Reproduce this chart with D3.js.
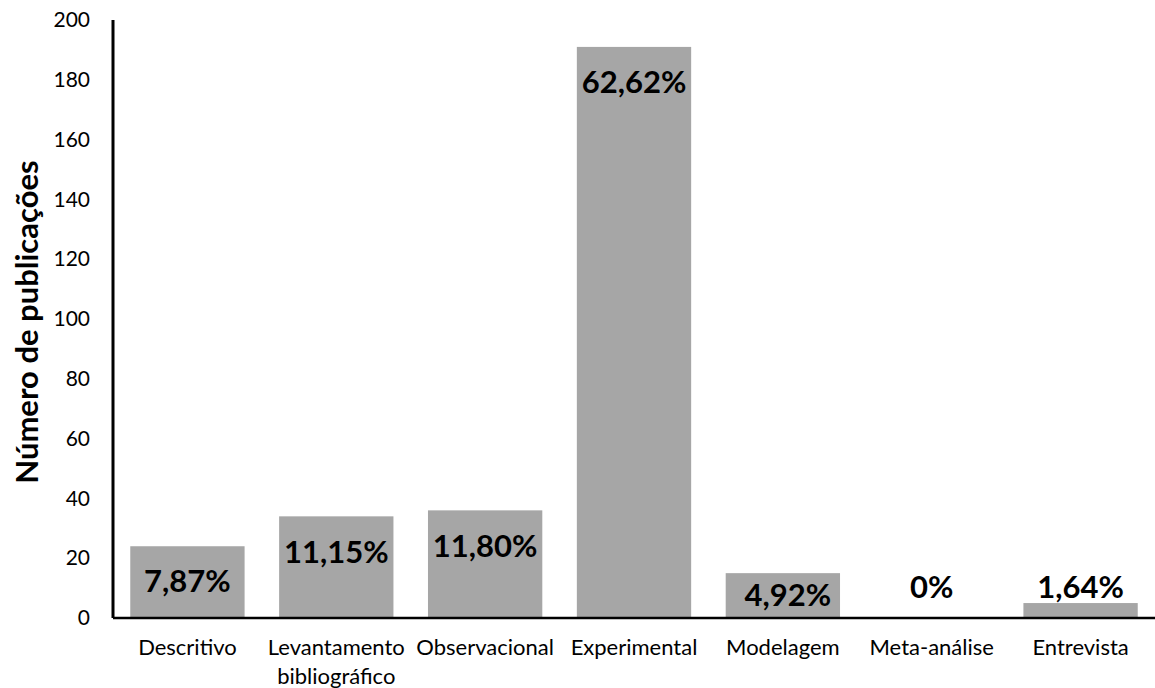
<!DOCTYPE html>
<html>
<head>
<meta charset="utf-8">
<script src="https://cdn.jsdelivr.net/npm/d3@7"></script>
<style>
  html, body { margin: 0; padding: 0; background: #fff; }
  svg { display: block; font-family: Lato, "Open Sans", sans-serif; }
</style>
</head>
<body>
<svg id="chart" width="1155" height="688"></svg>
<script>
// Publication counts by study type
const categories = ["Descritivo", "Levantamento bibliográfico", "Observacional", "Experimental", "Modelagem", "Meta-análise", "Entrevista"];
const counts = [24, 34, 36, 191, 15, 0, 5];
const percentLabels = ["7,87%", "11,15%", "11,80%", "62,62%", "4,92%", "0%", "1,64%"];
const yTicks = [0, 20, 40, 60, 80, 100, 120, 140, 160, 180, 200];

const svg = d3.select("#chart");

const x = d3.scaleBand()
  .domain(categories)
  .range([113, 1155])
  .paddingInner(0.232)
  .paddingOuter(0.116);

const y = d3.scaleLinear().domain([0, 200]).range([618, 20]);

// Bars
svg.append("g").selectAll("rect")
  .data(categories)
  .join("rect")
  .attr("x", d => x(d))
  .attr("width", x.bandwidth())
  .attr("y", (d, i) => y(counts[i]))
  .attr("height", (d, i) => y(0) - y(counts[i]))
  .attr("fill", "#a6a6a6");

// Percentage labels: inside the bar near its top, or above the baseline for short bars
svg.append("g").selectAll("text")
  .data(categories)
  .join("text")
  .attr("x", (d, i) => x(d) + x.bandwidth() / 2 + (counts[i] >= 10 && counts[i] < 20 ? 5 : 0))
  .attr("y", (d, i) => counts[i] >= 10 ? Math.min(y(counts[i]) + 35, 595) : 587)
  .attr("dy", "0.36em")
  .attr("text-anchor", "middle")
  .attr("font-size", 31)
  .attr("font-weight", "bold")
  .attr("fill", "#000")
  .text((d, i) => percentLabels[i]);

// Y axis
const yAxis = svg.append("g")
  .attr("transform", "translate(113,0)")
  .call(d3.axisLeft(y).tickValues(yTicks).tickSize(0).tickPadding(23));
yAxis.select(".domain").attr("stroke", "#000").attr("stroke-width", 3).attr("d", `M0,${y(200)}V${y(0)}`);
yAxis.selectAll("text").attr("font-size", 21).attr("fill", "#000").attr("font-family", "Lato, sans-serif");

// X axis
const xAxis = svg.append("g")
  .attr("transform", `translate(0,${y(0)})`)
  .call(d3.axisBottom(x).tickSize(0).tickPadding(0));
xAxis.select(".domain").attr("stroke", "#000").attr("stroke-width", 2.5).attr("d", "M113,0H1155");
xAxis.selectAll(".tick text").remove();
xAxis.selectAll(".tick").each(function(d) {
  const words = d.split(" ");
  const t = d3.select(this).append("text")
    .attr("text-anchor", "middle")
    .attr("font-size", 22)
    .attr("font-family", "Lato, sans-serif")
    .attr("fill", "#000");
  words.forEach((w, i) => {
    t.append("tspan").attr("x", 0).attr("y", 37 + i * 29).text(w);
  });
});

// Y axis title
svg.append("text")
  .attr("transform", "translate(38,322) rotate(-90)")
  .attr("text-anchor", "middle")
  .attr("font-size", 31)
  .attr("font-weight", "bold")
  .attr("fill", "#000")
  .text("Número de publicações");
</script>
</body>
</html>
